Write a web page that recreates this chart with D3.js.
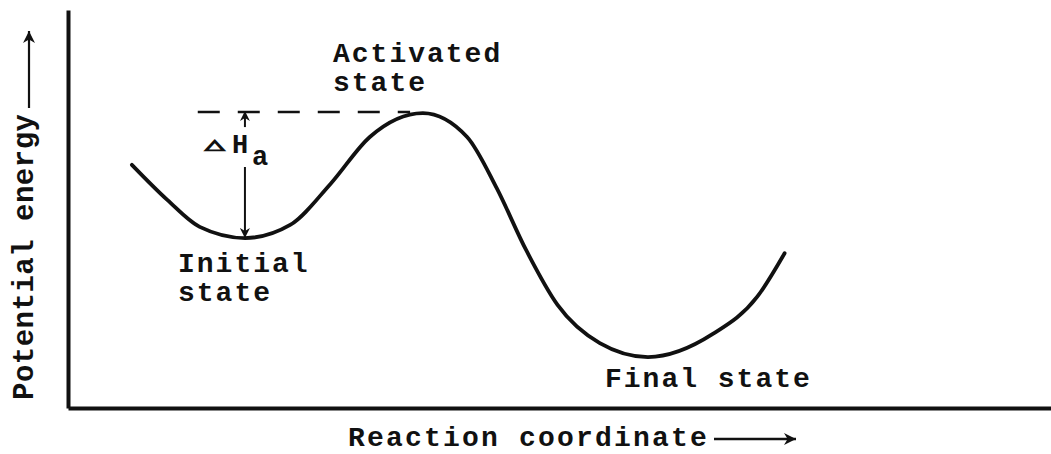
<!DOCTYPE html>
<html>
<head>
<meta charset="utf-8">
<script src="https://cdn.jsdelivr.net/npm/d3@7"></script>
<style>
  html, body { margin: 0; padding: 0; background: #fff; }
  svg { display: block; }
  text { font-family: "Liberation Mono", "Courier New", monospace; font-weight: bold; fill: #111; }
</style>
</head>
<body>
<svg id="chart" width="1051" height="454"></svg>
<script>
// Reaction coordinate (arbitrary units 0-100) and potential energy (arbitrary units 0-100)
const reactionCoord = [6.5, 10.1, 13.4, 18.0, 22.6, 26.7, 30.7, 36.1, 40.6, 43.6, 46.6, 49.8, 54.1, 59.0, 65.6, 70.1, 72.9];
const potentialEnergy = [61.1, 52.3, 45.5, 42.7, 46.0, 56.3, 68.1, 74.1, 68.1, 55.3, 39.7, 25.9, 16.3, 12.8, 18.6, 27.9, 38.9];
const initialIndex = 3;      // initial state (minimum)
const activatedIndex = 7;    // activated state (maximum)
const dashStart = 13.2;      // where the dashed activated-state level starts
const dashEnd = 34.8;
const xTitle = "Reaction coordinate";
const yTitle = "Potential energy";
const stateLabels = [
  { lines: ["Activated", "state"], x: 333, y: 62 },
  { lines: ["Initial", "state"], x: 178, y: 272 },
  { lines: ["Final state"], x: 605, y: 387 }
];

const svg = d3.select("#chart");
const x = d3.scaleLinear().domain([0, 100]).range([68, 1051]);
const y = d3.scaleLinear().domain([0, 100]).range([408, 10]);

// defs: arrowheads
const defs = svg.append("defs");
defs.append("marker").attr("id", "ah").attr("viewBox", "0 0 10 10")
  .attr("refX", 10).attr("refY", 5).attr("markerWidth", 12).attr("markerHeight", 10)
  .attr("markerUnits", "userSpaceOnUse").attr("orient", "auto")
  .append("path").attr("d", "M0,0 L10,5 L0,10 L3,5 Z").attr("fill", "#111");
defs.append("marker").attr("id", "ahBig").attr("viewBox", "0 0 10 10")
  .attr("refX", 10).attr("refY", 5).attr("markerWidth", 15).attr("markerHeight", 12)
  .attr("markerUnits", "userSpaceOnUse").attr("orient", "auto")
  .append("path").attr("d", "M0,0 L10,5 L0,10 L3,5 Z").attr("fill", "#111");

// Axes (thick lines, no ticks)
svg.append("g").attr("transform", `translate(${x(0)},0)`)
  .call(d3.axisLeft(y).ticks(0).tickSizeOuter(0));
svg.append("g").attr("transform", `translate(0,${y(0)})`)
  .call(d3.axisBottom(x).ticks(0).tickSizeOuter(0));
svg.selectAll(".domain").attr("stroke", "#111").attr("stroke-width", 4);

// Energy curve
const data = reactionCoord.map((d, i) => [d, potentialEnergy[i]]);
svg.append("path")
  .datum(data)
  .attr("fill", "none")
  .attr("stroke", "#111")
  .attr("stroke-width", 3.8)
  .attr("stroke-linecap", "round")
  .attr("d", d3.line().x(d => x(d[0])).y(d => y(d[1])).curve(d3.curveMonotoneX));

// Dashed activated level
const peakY = y(potentialEnergy[activatedIndex]) - 1;
svg.append("line")
  .attr("x1", x(dashStart)).attr("x2", x(dashEnd))
  .attr("y1", peakY).attr("y2", peakY)
  .attr("stroke", "#111").attr("stroke-width", 2.5)
  .attr("stroke-dasharray", "22,18");

// Delta H arrow
const ax = x(reactionCoord[initialIndex]);
svg.append("line")
  .attr("x1", ax).attr("x2", ax).attr("y1", peakY + 15).attr("y2", peakY - 1)
  .attr("stroke", "#111").attr("stroke-width", 2).attr("marker-end", "url(#ah)");
svg.append("line")
  .attr("x1", ax).attr("x2", ax).attr("y1", 167).attr("y2", y(potentialEnergy[initialIndex]))
  .attr("stroke", "#111").attr("stroke-width", 2).attr("marker-end", "url(#ah)");

// Delta H_a label
svg.append("text").attr("transform", "translate(205,149) scale(1.15,0.62)")
  .style("font-family", "DejaVu Sans").style("font-size", "22px")
  .attr("stroke", "#111").attr("stroke-width", 2).text("△");
svg.append("text").attr("x", 232).attr("y", 153).style("font-size", "27px").text("H");
svg.append("text").attr("x", 252).attr("y", 165).style("font-size", "27px").text("a");

// State labels (one text per line)
stateLabels.forEach(s => {
  s.lines.forEach((ln, i) => {
    svg.append("text").attr("x", s.x).attr("y", s.y + i * 29)
      .style("font-size", "28px").style("letter-spacing", "2px").text(ln);
  });
});

// X axis title with arrow
svg.append("text").attr("x", 348).attr("y", 446)
  .style("font-size", "28px").style("letter-spacing", "2.2px").text(xTitle);
svg.append("line").attr("x1", 714).attr("x2", 796).attr("y1", 439).attr("y2", 439)
  .attr("stroke", "#111").attr("stroke-width", 2.4).attr("marker-end", "url(#ahBig)");

// Y axis title with arrow
svg.append("text").attr("transform", "translate(33,400) rotate(-90)")
  .style("font-size", "29px").style("letter-spacing", "0.5px").text(yTitle);
svg.append("line").attr("x1", 29).attr("x2", 29).attr("y1", 108).attr("y2", 31)
  .attr("stroke", "#111").attr("stroke-width", 2.2).attr("marker-end", "url(#ahBig)");
</script>
</body>
</html>
